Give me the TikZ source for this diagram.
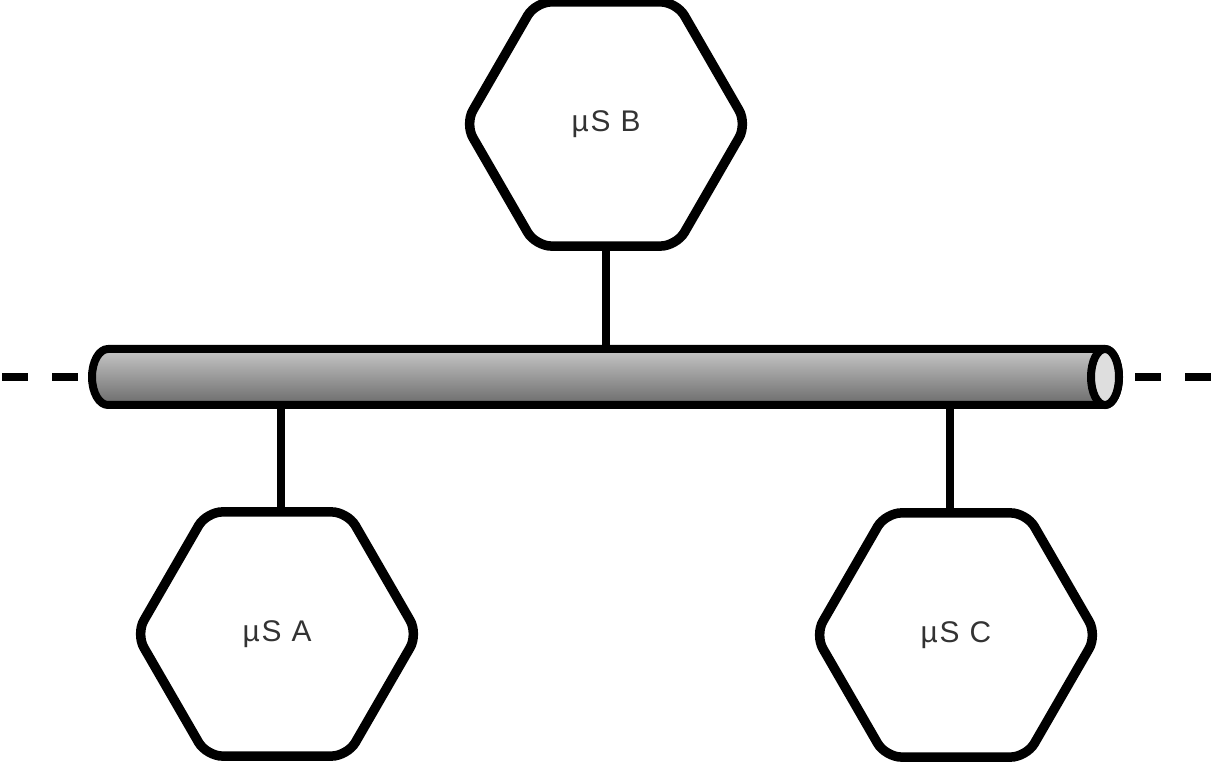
\documentclass[tikz,border=0pt]{standalone}
\usepackage{fontspec}
\setmainfont{Liberation Sans}[LetterSpace=6]
\usetikzlibrary{shapes.geometric}
\usetikzlibrary{positioning}

\begin{document}
\begin{tikzpicture}[x=0.02cm,y=0.02cm,
    hexa/.style={draw,regular polygon,regular polygon sides=6,shape border rotate=0,
      minimum size=5.64cm,inner sep=0pt,line width=5.4pt,rounded corners=9pt,fill=white,
      font=\fontsize{17}{20}\selectfont,text=black!80},
    link/.style={line width=4.2pt}]
  \useasboundingbox (0,0) rectangle (1214,763);
  \draw[line width=4.55pt,dash pattern=on 14.8pt off 13.7pt] (2,386) -- (80,386) (1135,386) -- (1214,386);
  % bus
  \shade[draw,line width=4.55pt,line join=round,top color=black!22,bottom color=black!58]
    (108,414) -- (1105,414) arc[start angle=90,end angle=-90,x radius=14,y radius=28]
    -- (108,358) arc[start angle=270,end angle=90,x radius=16,y radius=28] -- cycle;
  \draw[line width=4.55pt,fill=black!13] (1105,386) ellipse [x radius=14,y radius=28];
  \coordinate (jA) at (281,358);
  \coordinate (jB) at (606,414);
  \coordinate (jC) at (950,358);
  % services
  \foreach \n/\x/\y in {A/277/129,B/606/639,C/956/128} {
    \node[hexa] (\n) at (\x,\y) {µS \n};
  }
  \draw[link] (B.south -| jB) -- (jB);
  \draw[link] (jA) -- (jA |- A.north);
  \draw[link] (jC) -- (jC |- C.north);
\end{tikzpicture}
\end{document}
